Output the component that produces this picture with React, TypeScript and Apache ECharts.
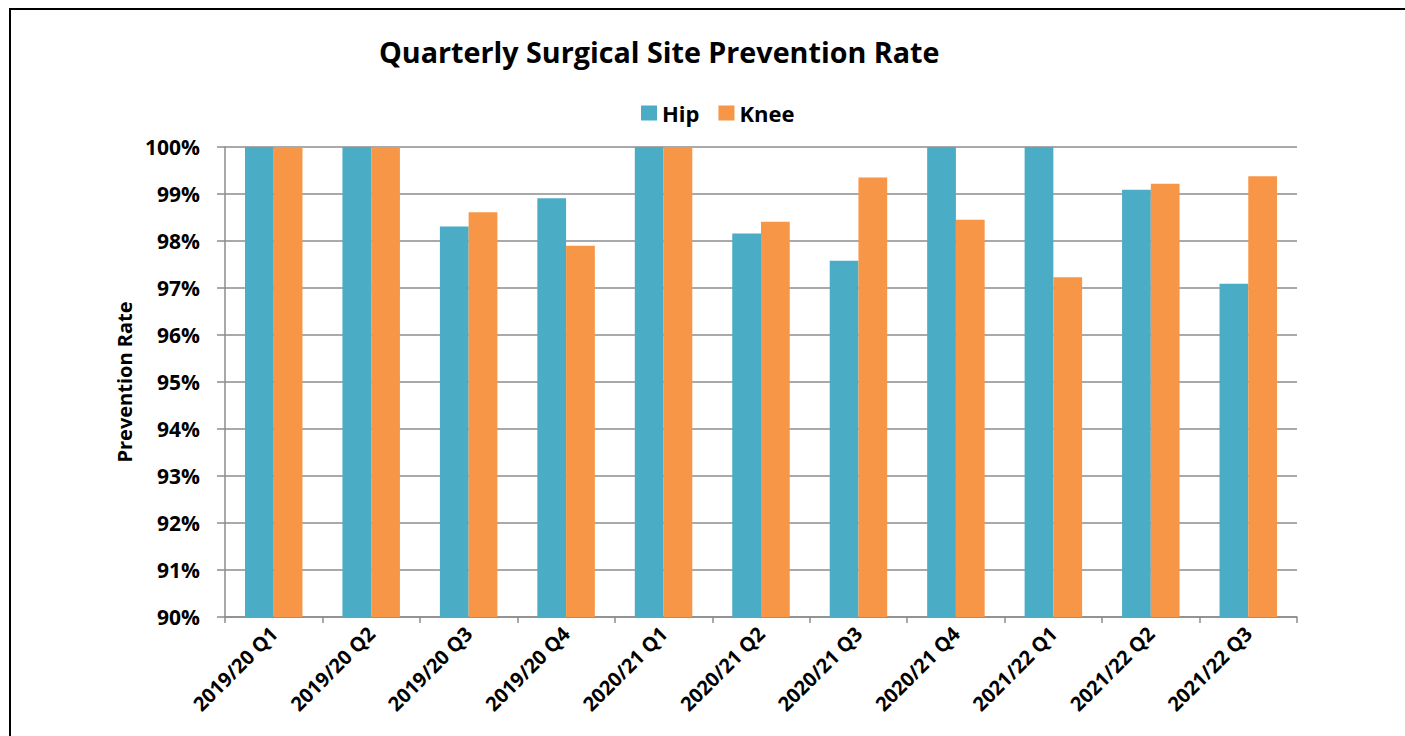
import React, { useEffect, useRef } from "react";
import * as echarts from "echarts";

const categories = [
  "2019/20 Q1", "2019/20 Q2", "2019/20 Q3", "2019/20 Q4",
  "2020/21 Q1", "2020/21 Q2", "2020/21 Q3", "2020/21 Q4",
  "2021/22 Q1", "2021/22 Q2", "2021/22 Q3",
];
const hipValues = [100, 100, 98.31, 98.91, 100, 98.16, 97.58, 100, 100, 99.09, 97.09];
const kneeValues = [100, 100, 98.61, 97.9, 100, 98.41, 99.35, 98.45, 97.23, 99.22, 99.38];
const yMin = 90;
const yMax = 100;
const yStep = 1;

const FONT = "'Open Sans', sans-serif";

export default function App() {
  const ref = useRef<HTMLDivElement>(null);
  useEffect(() => {
    if (!ref.current) return;
    const chart = echarts.init(ref.current, null, { renderer: "svg" });
    chart.setOption({
      animation: false,
      backgroundColor: "#ffffff",
      title: {
        text: "Quarterly Surgical Site Prevention Rate",
        left: 379,
        top: 37,
        padding: 0,
        textStyle: { fontFamily: FONT, fontWeight: "bold", fontSize: 28.7, color: "#000" },
      },
      legend: {
        left: 641,
        top: 102,
        padding: 0,
        itemWidth: 16,
        itemHeight: 15,
        itemGap: 19,
        icon: "rect",
        textStyle: { fontFamily: FONT, fontWeight: "bold", fontSize: 22, color: "#000" },
        data: ["Hip", "Knee"],
      },
      graphic: [
        {
          type: "rect",
          shape: { x: 10, y: 9, width: 1600, height: 1000 },
          style: { fill: "none", stroke: "#000", lineWidth: 2 },
          silent: true,
        },
      ],
      grid: { left: 225, right: 108, top: 147, bottom: 119, containLabel: false },
      xAxis: {
        type: "category",
        data: categories,
        axisLine: { lineStyle: { color: "#8c8c8c", width: 1.5 } },
        axisTick: { show: true, alignWithLabel: false, length: 6, lineStyle: { color: "#8c8c8c", width: 1.5 } },
        axisLabel: {
          rotate: 45,
          margin: 13,
          interval: 0,
          fontFamily: FONT,
          fontWeight: "bold",
          fontSize: 20,
          color: "#000",
        },
      },
      yAxis: {
        type: "value",
        min: yMin,
        max: yMax,
        interval: yStep,
        name: "Prevention Rate",
        nameLocation: "middle",
        nameGap: 89,
        nameTextStyle: { fontFamily: FONT, fontWeight: "bold", fontSize: 20, color: "#000" },
        axisLine: { show: true, lineStyle: { color: "#8c8c8c", width: 1.5 } },
        axisTick: { show: true, length: 8, lineStyle: { color: "#8c8c8c", width: 1.5 } },
        splitLine: { show: true, lineStyle: { color: "#8c8c8c", width: 1.5 } },
        axisLabel: {
          margin: 25,
          formatter: "{value}%",
          fontFamily: FONT,
          fontWeight: "bold",
          fontSize: 21,
          color: "#000",
        },
      },
      series: [
        {
          name: "Hip",
          type: "bar",
          data: hipValues,
          barGap: "0%",
          barCategoryGap: "41%",
          itemStyle: { color: "#4BACC6" },
        },
        {
          name: "Knee",
          type: "bar",
          data: kneeValues,
          barGap: "0%",
          barCategoryGap: "41%",
          itemStyle: { color: "#F79646" },
        },
      ],
    });
    return () => chart.dispose();
  }, []);
  return (
    <div
      ref={ref}
      style={{ position: "absolute", left: 0, top: 0, width: 1405, height: 736 }}
    />
  );
}
